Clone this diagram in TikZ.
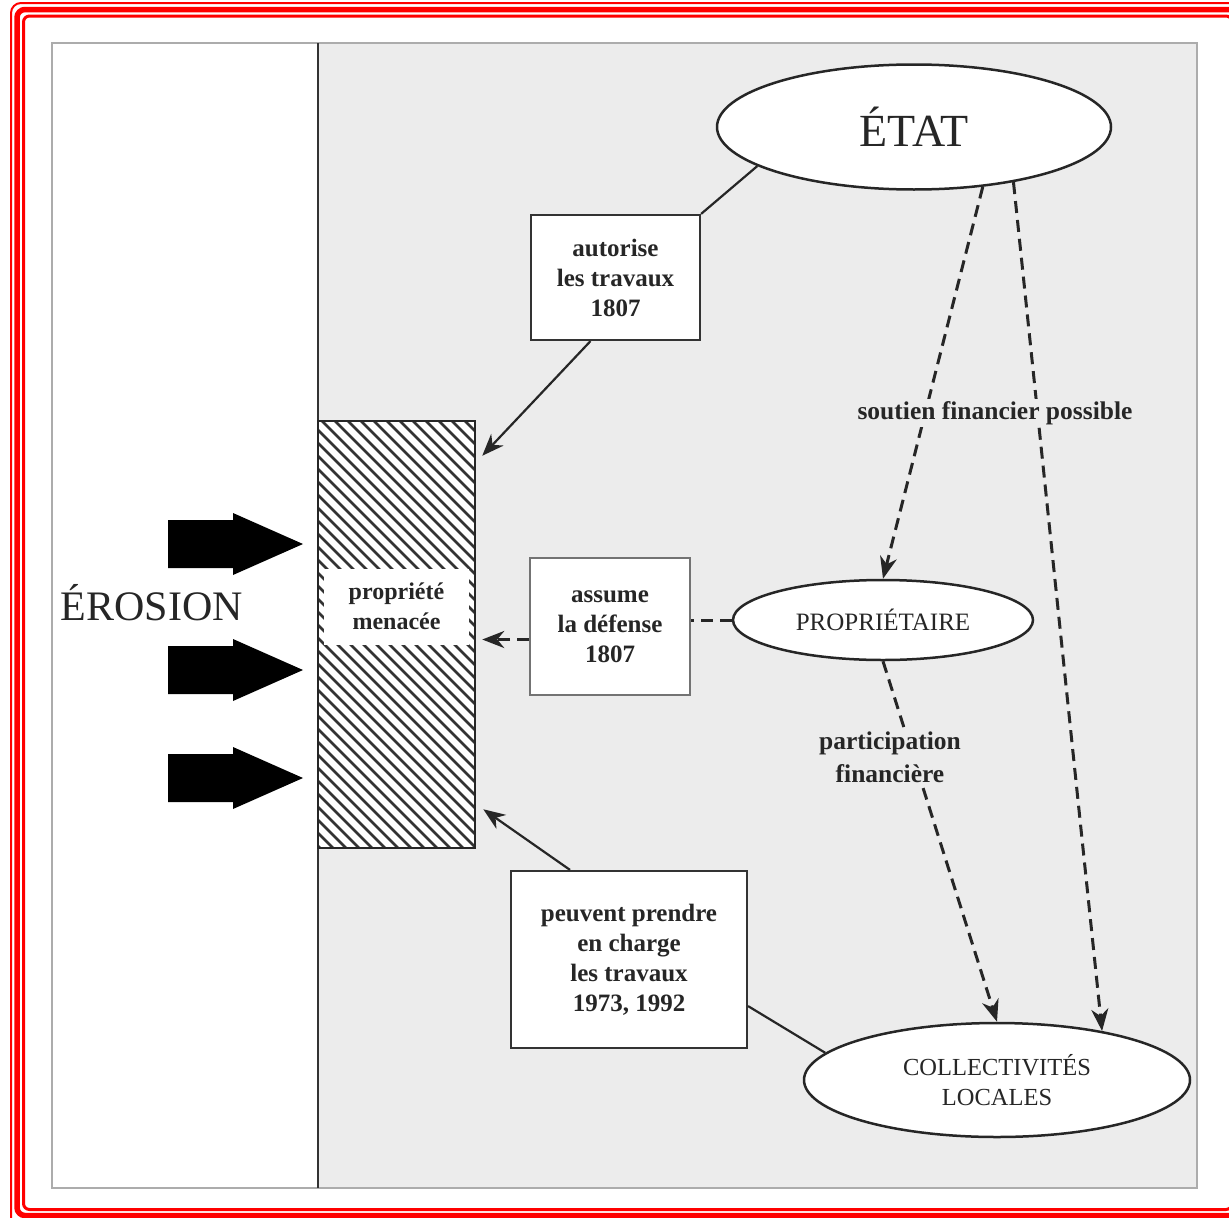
\documentclass[tikz,border=0pt]{standalone}
\usepackage{fontspec}
\setmainfont{Liberation Serif}
\usetikzlibrary{shapes.geometric,arrows.meta,calc}
\definecolor{stip}{gray}{0.925}
\definecolor{frred}{RGB}{255,0,0}
\tikzset{
 conn/.style={line width=2.2pt, draw=black!85},
 arr/.style={conn, -{Stealth[length=22pt,width=17pt,inset=7pt]}},
 darr/.style={arr, dash pattern=on 12pt off 7pt, line width=3pt},
 dline/.style={conn, dash pattern=on 12pt off 7pt, line width=3pt},
 lbox/.style={draw=black!80, line width=2.2pt, fill=white, align=center, text=black!85,
   font=\fontsize{25}{30}\selectfont\bfseries, inner sep=0pt},
 ell/.style={ellipse, draw=black!85, line width=2.5pt, fill=white, inner sep=0pt, align=center, text=black!85},
 lab/.style={fill=stip, inner sep=2pt, align=center, text=black!85, font=\fontsize{25.5}{33}\selectfont\bfseries},
}
\begin{document}
\begin{tikzpicture}[x=1pt,y=-1pt]
\useasboundingbox (0,0) rectangle (1229,1218);
\fill[white] (0,0) rectangle (1229,1218);
% red frame
\draw[frred, line width=2pt, rounded corners=10pt] (11,3) rectangle (1245,1235);
\draw[frred, line width=5.5pt, rounded corners=8pt] (17,9.5) rectangle (1238,1215.5);
\draw[frred, line width=3pt, rounded corners=6pt] (23.5,16) rectangle (1232,1209.5);
% main panel
\fill[stip] (318,43) rectangle (1197,1188);
\draw[gray!65, line width=2pt] (52,43) rectangle (1197,1188);
\draw[black!80, line width=2pt] (318,43) -- (318,1188);
% hatched property
\begin{scope}
 \clip (318,421) rectangle (475,848);
 \fill[white] (318,421) rectangle (475,848);
 \foreach \x in {-120,-107,...,480} \draw[black!80, line width=2.8pt] (\x,421) -- (\x+427,848);
\end{scope}
\node[draw=black!85, line width=2.5pt, minimum width=157pt, minimum height=427pt, inner sep=0pt] (haz) at (396.5,634.5) {};
\node[fill=white, minimum width=145pt, minimum height=76pt, inner sep=0pt, align=center, text=black!85,
  font=\fontsize{24}{30}\selectfont\bfseries] (pm) at (396.5,606.5) {propriété\\menacée};
% erosion
\node[text=black!85, font=\fontsize{42}{48}\selectfont, inner sep=0pt] (ero) at (152,603) {ÉROSION};
\foreach \c in {544,670,778}
 \fill[black] (168,\c-24) -- (233,\c-24) -- (233,\c-31) -- (303,\c) -- (233,\c+31) -- (233,\c+24) -- (168,\c+24) -- cycle;
% ellipses
\node[ell, minimum width=394pt, minimum height=125pt, font=\fontsize{46}{50}\selectfont] (etat) at (914,127) {ÉTAT};
\node[ell, minimum width=300pt, minimum height=80pt, font=\fontsize{25}{30}\selectfont] (prop) at (883,620) {PROPRIÉTAIRE};
\node[ell, minimum width=386pt, minimum height=114pt, font=\fontsize{24.5}{30}\selectfont] (coll) at (997,1080) {COLLECTIVITÉS\\LOCALES};
% boxes
\node[lbox, minimum width=169pt, minimum height=125pt] (aut) at (615.5,277.5) {autorise\\les travaux\\1807};
\node[lbox, draw=black!55, line width=1.8pt, minimum width=160pt, minimum height=137pt] (asm) at (610,626.5) {assume\\la défense\\1807};
\node[lbox, minimum width=236pt, minimum height=177pt] (peu) at (629,959.5) {peuvent prendre\\en charge\\les travaux\\1973, 1992};
% connectors
\draw[conn] (etat.194) -- (aut.north east);
\draw[arr] ($(aut.south)+(-25,0)$) -- ($(haz.north east)+(6,36)$);
\draw[dline] (prop.west) -- (asm.east |- prop.west);
\draw[darr] ($(asm.west)+(0,13)$) -- ($(haz.east)+(6,5)$);
\draw[darr] (etat.-41.5) -- (prop.north);
\draw[darr] (etat.-29.4) -- (coll.25);
\draw[darr] (prop.south) -- (coll.north);
\draw[conn] (coll.171) -- ($(peu.south east)+(0,-43)$);
\draw[arr] ($(peu.north)+(-59,0)$) -- ($(haz.south east)+(7,-40)$);
% labels
\node[lab] (l1) at (995,413) {soutien financier possible};
\node[lab] (l2) at (890,757) {participation\\financière};
\end{tikzpicture}
\end{document}
